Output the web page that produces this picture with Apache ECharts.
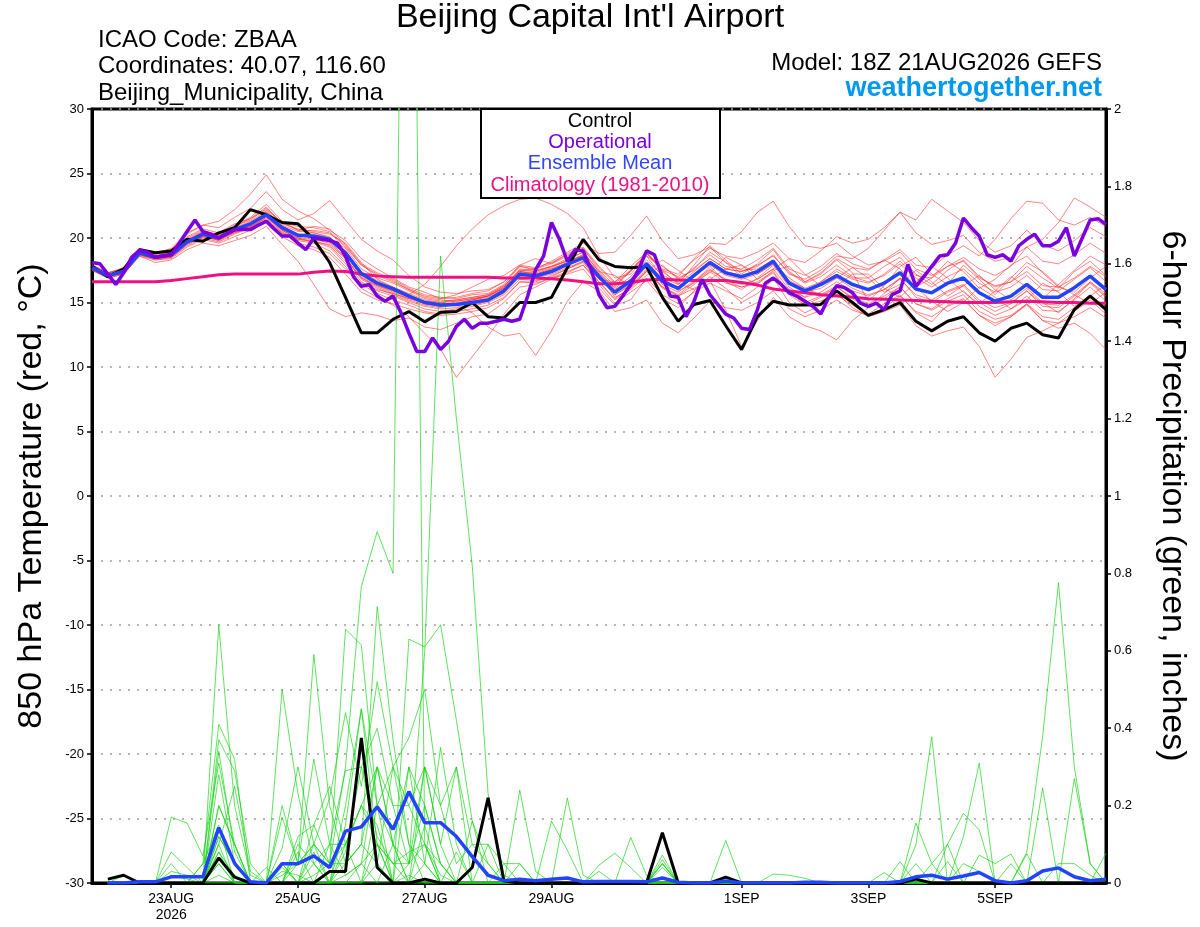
<!DOCTYPE html>
<html>
<head>
<meta charset="utf-8">
<title>Beijing Capital Int'l Airport - GEFS</title>
<script src="https://cdn.jsdelivr.net/npm/echarts@6.0.0/dist/echarts.min.js"></script>
<style>
  html, body { margin: 0; padding: 0; background: #fff; }
  #chart { width: 1200px; height: 927px; }
</style>
</head>
<body>
<div id="chart"></div>
<script>
const FONT = "'Liberation Sans', Arial, Helvetica, sans-serif"

// x axis: hours after 18Z 21AUG2026
const tickHours = [30, 78, 126, 174, 246, 294, 342]
const tickLabels = ['23AUG\n2026', '25AUG', '27AUG', '29AUG', '1SEP', '3SEP', '5SEP']

// 850 hPa temperature (C), 6-hourly from hour 0
const controlTemp = [17.8, 17.0, 17.6, 19.1, 18.85, 19.0, 19.9, 19.75, 20.4, 20.8, 22.2, 21.8, 21.2, 21.1, 19.9, 18.1, 15.4,
  12.65, 12.65, 13.7, 14.3, 13.5, 14.25, 14.3, 15.0, 13.9, 13.8, 15.0, 15.0, 15.4, 17.7, 19.9, 18.3,
  17.8, 17.7, 17.8, 15.4, 13.55, 14.85, 15.15, 13.2, 11.35, 13.9, 15.1, 14.8, 14.8, 14.85, 15.9, 15.0,
  14.0, 14.45, 15.0, 13.55, 12.8, 13.55, 13.9, 12.65, 12.0, 13.0, 13.4, 12.5, 12.25, 14.45, 15.5, 14.45]
const meanTemp = [17.7, 17.1, 17.4, 18.85, 18.5, 18.7, 19.7, 20.3, 20.0, 20.65, 21.1, 21.8, 20.8, 20.2, 20.15, 19.9, 18.85,
  17.25, 16.5, 16.05, 15.5, 15.0, 14.8, 14.85, 15.0, 15.2, 15.9, 17.2, 17.05, 17.4, 17.95, 18.45, 17.0,
  15.8, 16.65, 18.0, 16.65, 16.1, 17.1, 18.1, 17.3, 17.0, 17.4, 18.2, 16.5, 15.9, 16.4, 17.1, 16.4,
  16.0, 16.5, 17.3, 16.05, 15.75, 16.5, 16.9, 15.75, 15.1, 15.5, 16.4, 15.4, 15.4, 16.15, 17.05, 16.0]
const climTemp = [16.6, 16.6, 16.6, 16.6, 16.6, 16.7, 16.85, 17.0, 17.15, 17.2, 17.2, 17.2, 17.2, 17.2, 17.35, 17.45, 17.4,
  17.2, 17.05, 17.0, 16.95, 16.95, 16.95, 16.95, 16.95, 16.95, 16.9, 16.9, 16.9, 16.85, 16.75, 16.6, 16.45,
  16.45, 16.55, 16.75, 16.8, 16.75, 16.7, 16.7, 16.7, 16.55, 16.35, 16.05, 15.9, 15.75, 15.6, 15.5, 15.4,
  15.3, 15.25, 15.2, 15.15, 15.1, 15.05, 15.0, 15.0, 15.0, 15.05, 15.1, 15.05, 15.0, 15.0, 14.95, 14.95]

// operational run, 3-hourly from hour 0
const operTemp = [18.1, 18.0, 17.2, 16.4, 17.3, 18.5, 19.05, 18.9, 18.5, 18.6, 18.7, 19.6, 20.5, 21.4, 20.5, 20.3, 20.0,
  20.35, 20.65, 20.65, 20.65, 21.0, 21.3, 20.7, 20.15, 20.15, 19.6, 19.1, 20.0, 19.9, 19.8, 19.6, 18.6,
  17.0, 16.25, 16.4, 15.5, 15.1, 15.5, 14.2, 12.65, 11.2, 11.2, 12.25, 11.35, 12.0, 13.15, 13.7, 13.0,
  13.4, 13.4, 13.55, 13.7, 13.55, 13.7, 15.5, 17.55, 18.6, 21.2, 19.9, 18.2, 19.1, 19.0, 17.55, 15.6,
  14.6, 14.7, 15.5, 16.4, 17.55, 19.0, 18.7, 17.0, 15.5, 15.4, 13.9, 15.1, 16.8, 15.6, 14.85, 14.1,
  13.8, 13.0, 12.9, 14.45, 16.5, 16.9, 16.4, 15.75, 15.5, 15.1, 14.7, 14.1, 15.4, 16.3, 16.15, 15.75,
  14.95, 14.7, 14.95, 14.45, 15.6, 15.9, 17.95, 16.25, 17.0, 17.8, 18.6, 18.7, 19.6, 21.55, 20.8, 20.15,
  18.7, 18.5, 18.7, 18.2, 19.4, 19.9, 20.3, 19.4, 19.4, 19.75, 20.8, 18.6, 20.0, 21.4, 21.5, 21.05]

// ensemble members, 6-hourly from hour 0
const tempMembers = [
  [17.9,17.3,17.6,18.9,18.8,19.2,20.4,21.0,21.3,22.2,23.4,24.9,23.0,22.1,21.5,20.6,19.8, 18.4,17.6,16.9,16.2,15.8,15.3,15.6,16.2,16.8,17.1,17.9,18.4,18.0,18.6,19.2,17.5, 16.3,17.4,18.8,17.5,16.4,17.9,19.4,18.3,17.2,18.0,19.1,17.4,16.6,17.3,18.4,17.7, 16.9,17.8,18.5,17.2,16.4,17.5,18.3,17.0,16.2,16.6,17.8,16.9,16.1,17.4,18.2,17.1],
  [17.5,16.9,17.2,18.6,18.1,18.3,19.1,19.6,19.4,19.8,20.2,20.9,19.5,18.2,16.4,14.5,13.9, 14.2,14.0,13.6,13.8,13.1,12.9,13.4,13.9,14.1,15.0,16.2,16.4,16.9,17.2,17.6,16.1, 14.8,15.2,16.9,15.6,14.9,15.8,16.5,15.9,15.3,16.2,16.9,15.0,14.2,14.8,15.6,14.8, 14.1,14.9,15.6,14.2,13.5,14.8,15.3,14.0,13.2,13.9,14.8,13.6,13.4,14.3,15.2,14.1],
  [17.8,17.2,17.5,19.0,18.6,18.9,20.0,20.6,20.2,20.9,21.5,22.4,21.1,20.7,20.5,20.3,19.6, 18.1,16.8,16.2,15.6,16.4,17.8,19.4,20.7,21.8,22.5,23.0,23.1,22.6,21.9,20.8,18.6, 16.9,17.2,18.6,17.8,16.9,17.5,18.4,17.6,17.4,17.9,18.6,17.3,16.5,17.0,17.9,17.0, 16.6,17.1,18.0,16.9,16.2,17.0,17.6,16.5,15.8,16.2,17.1,16.0,15.9,16.8,17.7,16.6],
  [17.6,17.0,17.3,18.7,18.4,18.5,19.5,20.1,19.9,20.4,20.8,21.6,20.5,19.8,19.6,19.0,17.8, 16.1,15.4,14.8,13.9,12.6,11.4,9.2,10.8,12.4,14.1,15.6,16.2,16.8,17.3,17.9,16.6, 15.2,16.1,17.4,16.2,15.6,16.6,17.5,16.8,16.4,16.8,17.6,16.0,15.4,15.8,16.6,15.9, 15.5,16.0,16.8,15.6,15.2,15.9,16.4,15.2,14.6,15.0,15.9,14.9,14.8,15.6,16.6,15.5],
  [17.7,17.1,17.3,18.8,18.5,18.6,19.6,20.2,20.1,20.5,21.0,21.7,20.9,20.3,20.4,20.0,19.2, 17.6,16.9,16.5,15.9,15.3,15.1,15.2,15.4,15.6,16.3,17.5,17.4,17.8,18.2,18.7,17.3, 16.0,16.8,17.9,16.4,15.8,16.7,17.6,16.7,16.2,16.5,17.3,15.6,14.8,15.1,15.7,14.6, 13.9,14.3,14.8,13.2,12.4,12.8,13.1,11.6,9.2,10.6,12.3,12.8,13.4,13.9,14.6,13.8],
  [17.8,17.2,17.6,19.0,18.7,18.9,19.9,20.5,20.3,21.0,21.6,22.6,21.3,20.6,20.9,20.7,19.5, 18.0,17.3,16.8,16.1,15.6,15.4,15.3,15.6,15.7,16.4,17.8,17.6,18.0,18.8,19.3,17.8, 16.6,17.5,18.9,17.6,17.2,18.3,19.2,18.6,18.4,18.9,19.6,18.4,18.1,19.0,20.1,19.6, 19.9,20.8,22.0,21.4,23.0,22.1,21.2,19.8,18.9,19.4,20.6,19.5,19.0,19.8,20.8,20.1],
  [17.6,17.0,17.4,18.9,18.6,18.8,19.8,20.4,20.0,20.7,21.2,22.0,20.9,20.3,20.2,19.7,18.5, 16.9,16.2,15.7,15.2,14.8,14.6,14.9,15.2,15.5,16.1,17.4,17.3,17.7,18.3,18.9,17.4, 16.1,17.0,18.3,17.1,16.6,17.7,18.7,17.8,17.6,18.3,19.2,17.6,17.1,17.8,18.8,18.0, 17.6,18.3,19.1,17.9,17.7,18.7,19.4,18.6,19.9,21.5,22.85,22.7,21.4,21.0,21.6,20.9],
  [17.7,17.1,17.5,18.8,18.4,18.6,19.6,20.2,19.8,20.5,20.9,21.5,20.4,19.9,19.8,19.4,18.2, 16.6,15.9,15.5,15.0,14.5,14.3,14.5,14.7,15.0,15.6,16.8,16.7,17.0,17.6,18.1,16.6, 15.3,16.2,17.5,16.1,15.5,16.4,17.4,16.5,16.2,16.6,17.4,15.7,15.0,15.5,16.2,15.4, 14.9,15.5,16.2,14.9,14.4,15.1,15.6,14.3,13.7,14.0,14.9,13.6,13.0,13.4,12.6,11.35],
  [17.9,17.3,17.6,19.1,18.8,19.0,20.1,20.7,20.4,21.1,21.5,22.2,21.2,20.9,20.8,20.5,19.4, 17.9,17.1,16.6,16.0,15.5,15.3,15.4,15.7,15.9,16.6,17.9,17.7,18.1,18.7,19.2,17.7, 16.5,17.4,18.8,17.5,17.0,18.4,19.6,19.5,20.5,22.0,22.85,20.9,19.4,19.2,19.6,18.6, 17.9,18.2,18.9,17.6,17.1,17.8,18.2,16.9,16.3,16.6,17.4,16.3,16.2,16.9,17.8,17.0],
  [17.5,17.0,17.3,18.7,18.3,18.5,19.4,20.0,19.7,20.3,20.8,21.4,20.4,19.6,19.3,18.8,17.6, 16.5,16.0,15.7,15.3,15.1,15.0,15.2,15.4,15.6,16.3,17.5,17.6,18.2,18.9,19.6,18.8, 18.9,20.2,21.7,19.8,18.4,18.7,19.3,18.1,17.5,17.6,18.3,16.6,15.8,16.1,16.9,16.1, 15.6,16.0,16.9,15.4,15.0,15.8,16.3,15.0,14.3,14.9,15.9,14.7,14.6,15.5,16.5,15.4],
  [17.8,17.2,17.4,18.8,18.5,18.7,19.7,20.3,20.0,20.6,21.1,21.8,20.7,20.2,20.0,19.8,18.7, 17.0,16.3,15.8,15.3,14.9,14.7,14.8,14.2,13.1,12.4,12.6,10.9,12.8,15.1,16.6,15.9, 14.3,14.6,15.2,13.4,12.65,13.8,15.1,14.6,14.4,15.0,15.9,14.5,13.9,14.4,15.2,14.4, 14.0,14.6,15.5,14.3,13.9,14.7,15.2,14.0,13.4,13.9,14.9,13.9,13.7,14.6,15.6,14.6],
  [17.6,17.0,17.3,18.8,18.5,18.7,19.6,20.2,19.9,20.5,21.0,21.8,20.6,20.0,19.9,19.6,18.4, 16.9,16.3,15.9,15.4,15.0,14.8,14.9,15.1,15.3,16.0,17.3,17.1,17.5,18.0,18.5,17.0, 15.6,16.3,17.6,16.2,15.5,16.1,16.7,14.4,11.6,13.6,15.4,13.9,13.2,12.8,12.1,13.6, 14.6,15.3,16.2,14.9,14.5,15.3,15.9,14.7,14.0,14.5,15.5,14.4,14.3,15.2,16.2,15.1],
  [17.7,17.1,17.4,18.9,18.5,18.7,19.7,20.4,20.1,20.7,21.1,22.0,20.9,20.3,20.1,19.9,18.9, 17.3,16.6,16.1,15.6,15.1,14.9,15.0,15.2,15.4,16.0,17.3,17.1,17.5,18.0,18.5,17.1, 15.9,16.7,18.0,16.7,16.2,17.2,18.2,17.4,17.1,17.5,18.3,16.7,16.1,16.6,17.4,16.8, 16.5,17.2,18.2,17.1,16.9,17.8,18.5,17.6,17.1,17.8,19.3,19.9,21.2,23.1,22.4,21.6],
  [17.8,17.2,17.5,18.9,18.6,18.8,19.8,20.4,20.1,20.8,21.3,22.1,21.0,20.5,20.6,20.4,19.3, 17.9,17.2,16.7,16.0,15.4,15.2,15.1,15.3,15.5,16.2,17.6,17.4,17.8,18.4,18.9,17.4, 17.1,16.2,17.4,18.3,17.5,16.6,17.3,18.5,17.9,16.8,17.6,18.4,17.2,16.3,16.9,17.7, 17.5,18.3,17.6,16.2,16.9,18.2,17.4,16.1,16.8,17.9,18.6,17.3,16.2,15.8,16.9,17.8],
  [17.6,17.0,17.3,18.7,18.4,18.6,19.6,20.1,19.9,20.5,20.9,21.6,20.6,20.0,19.7,19.3,18.0, 16.4,15.7,15.2,14.8,14.3,14.1,14.3,14.5,14.8,15.4,16.6,16.5,16.9,17.4,17.9,16.4, 14.9,15.8,16.7,15.3,14.6,15.9,17.0,16.1,15.0,15.7,16.8,15.9,14.8,15.4,16.2,15.3, 14.6,15.7,16.9,16.2,15.1,14.3,15.0,16.2,15.4,14.5,15.2,16.5,15.8,14.7,15.5,16.4],
  [17.7,17.1,17.5,18.9,18.6,18.8,19.8,20.3,20.0,20.6,21.0,21.9,20.8,20.2,20.0,19.8,18.7, 17.1,16.4,15.9,15.4,14.9,14.7,14.9,15.2,15.5,16.2,17.4,17.2,17.6,18.1,18.6,17.2, 15.9,16.8,18.1,16.9,16.4,17.4,18.4,17.6,17.4,17.8,18.7,17.2,16.8,17.5,18.6,18.4, 19.2,20.6,22.0,20.4,19.5,19.8,20.2,18.9,18.2,18.5,19.3,18.2,18.0,18.7,19.6,18.8],
  [17.9,17.3,17.7,19.2,18.9,19.1,20.3,21.0,20.8,21.6,22.3,23.6,22.2,21.4,21.9,22.9,21.4, 19.9,19.0,18.3,17.1,16.2,15.8,15.7,15.9,16.0,16.6,17.8,17.5,17.8,18.2,18.6,16.9, 15.6,16.4,17.8,16.5,16.0,17.0,17.9,17.1,16.8,17.2,18.0,16.4,15.8,16.3,17.0,16.3, 15.9,16.4,17.2,16.0,15.7,16.4,16.9,15.7,15.1,15.5,16.4,15.3,15.3,16.1,17.0,15.9],
  [17.5,16.9,17.2,18.6,18.3,18.4,19.3,19.9,19.6,20.1,20.6,21.2,20.1,19.4,19.1,18.5,17.2, 15.8,15.2,14.9,14.5,14.2,14.0,14.1,14.3,14.6,15.3,16.6,16.6,17.1,17.6,18.2,16.8, 16.2,17.5,18.6,17.0,15.9,16.5,17.8,16.6,16.0,16.9,17.9,16.2,15.4,16.6,17.6,16.9, 16.9,15.8,16.4,17.5,16.6,15.5,16.3,17.1,16.0,15.2,16.1,15.0,14.2,15.3,16.6,15.7],
  [17.8,17.2,17.5,18.9,18.6,18.8,19.8,20.5,20.2,20.9,21.4,22.3,21.2,20.6,20.4,20.1,19.0, 17.4,16.7,16.2,15.7,15.2,15.0,15.1,15.3,15.5,16.1,17.4,17.2,17.6,18.1,18.7,17.2, 15.4,16.0,17.1,17.9,16.8,17.6,18.9,18.1,17.0,16.4,17.5,17.8,16.6,17.2,18.3,17.3, 15.1,16.3,17.8,18.5,17.2,16.4,17.9,16.8,15.6,16.9,18.1,17.4,16.3,15.6,14.9,15.8],
  [17.6,17.0,17.3,18.7,18.4,18.5,19.5,20.1,19.8,20.4,20.9,21.7,20.6,19.9,19.7,19.5,18.4, 16.8,16.1,15.6,15.1,14.7,14.5,14.6,14.8,15.1,15.7,17.0,16.9,17.2,17.7,18.2,16.8, 16.6,17.8,18.9,17.4,16.5,16.0,16.8,17.6,17.9,17.2,18.0,16.9,16.1,15.6,16.3,17.2, 17.2,16.1,15.4,16.6,17.8,16.9,15.8,14.9,15.9,17.0,16.2,15.3,16.4,17.5,18.6,17.9]
]

// 6-hour precipitation (inches), from hour 6
const controlPrecip = [0.01, 0.02, 0, 0, 0, 0, 0, 0.065, 0.015, 0, 0, 0, 0, 0, 0.03, 0.03,
  0.375, 0.04, 0, 0, 0.01, 0, 0, 0.04, 0.22, 0.005, 0, 0, 0, 0, 0, 0,
  0, 0, 0, 0.13, 0, 0, 0, 0.015, 0, 0, 0, 0, 0, 0, 0, 0,
  0, 0, 0, 0.01, 0, 0, 0, 0, 0, 0, 0, 0, 0, 0, 0, 0]
const meanPrecip = [0, 0, 0.003, 0.003, 0.016, 0.016, 0.016, 0.143, 0.051, 0.003, 0, 0.05, 0.05, 0.07, 0.04, 0.134,
  0.145, 0.197, 0.139, 0.236, 0.156, 0.156, 0.12, 0.068, 0.02, 0.006, 0.01, 0.006, 0.01, 0.013, 0.003, 0.004,
  0.004, 0.004, 0.003, 0.013, 0.002, 0, 0, 0.005, 0, 0, 0, 0, 0.002, 0.002, 0, 0,
  0, 0, 0.004, 0.016, 0.02, 0.01, 0.018, 0.027, 0.006, 0, 0.006, 0.031, 0.039, 0.016, 0.006, 0.01]
const precipMembers = [
  [0,0,0,0,0,0,0,0.12,0.05,0,0,0,0,0.02,0.05,0.3, 0.766,0.908,0.8,4.0,0.1,0.02,0,0,0,0,0,0,0,0,0,0, 0,0,0,0,0,0,0,0,0,0,0,0,0,0,0,0, 0,0,0,0,0.05,0,0,0,0,0,0,0,0,0,0,0],
  [0,0,0,0,0.02,0.01,0,0.2,0.1,0,0,0.17,0.05,0.1,0.05,0.1, 0.2,0.3,0.2,0.05,0.6,1.62,1.2,0.82,0.23,0.02,0,0,0,0,0,0, 0,0,0,0.05,0,0,0,0,0,0,0,0,0,0,0,0, 0,0,0,0,0,0,0.05,0.03,0,0,0,0,0,0,0,0],
  [0,0,0,0,0.17,0.155,0.07,0.31,0.1,0,0,0.02,0.05,0.59,0.2,0.05, 0.1,0.714,0.37,0.1,0.05,0,0,0,0,0,0.24,0.03,0,0,0,0, 0,0.118,0.02,0,0,0,0,0,0,0,0,0,0,0,0,0, 0,0,0,0,0,0,0,0,0,0,0,0,0,0,0,0],
  [0,0,0,0,0,0,0,0.667,0.2,0.02,0,0,0.12,0.15,0.05,0.656, 0.615,0.2,0.1,0.3,0.05,0.35,0.1,0,0,0,0,0,0,0.22,0.02,0, 0,0,0,0,0,0,0,0,0,0,0,0,0,0,0,0, 0,0,0,0.098,0.378,0,0,0,0,0,0,0,0,0,0,0],
  [0,0,0,0,0,0,0.05,0.41,0.32,0,0,0.5,0.23,0.05,0,0.2, 0.45,0.1,0,0.63,0.61,0.667,0.42,0.16,0.05,0,0,0,0,0,0,0, 0,0,0,0.072,0,0,0,0,0,0,0,0,0,0,0,0, 0,0,0,0,0,0,0,0,0,0,0,0,0,0,0,0],
  [0,0,0,0,0,0,0,0.37,0.29,0.05,0,0.09,0.3,0.1,0.22,0.44, 0.25,0.52,0.3,0.375,0.5,0.2,0.3,0.1,0.1,0,0,0,0.16,0.085,0,0, 0,0,0,0,0,0,0,0,0,0,0,0,0,0,0,0, 0,0,0,0,0,0,0.12,0.31,0,0,0,0,0,0,0,0],
  [0,0,0,0,0.08,0.04,0,0.34,0.08,0,0,0.2,0.05,0.32,0.1,0.29, 0.3,0.4,0.2,0.2,0.3,0.1,0,0,0,0,0,0,0,0,0,0.046, 0.077,0.04,0,0,0,0,0,0,0,0,0,0,0,0,0,0, 0,0,0,0,0,0,0,0,0,0,0.08,0.378,0.776,0.3,0.05,0],
  [0,0,0,0,0,0,0,0.28,0.05,0,0.04,0,0.08,0,0.1,0.1, 0.2,0.15,0,0.3,0.2,0.05,0,0,0,0,0,0,0,0,0,0, 0,0,0,0,0,0,0,0.11,0,0,0,0,0,0,0,0, 0,0,0,0,0,0,0,0,0,0,0,0.246,0,0,0,0],
  [0,0,0,0,0,0,0.05,0.15,0,0,0,0.05,0,0,0,0.05, 0.1,0.3,0.1,0,0.15,0,0.08,0,0,0,0,0,0,0,0,0, 0,0,0,0.06,0,0,0,0,0,0,0,0,0,0,0,0, 0,0,0,0.155,0.05,0.1,0.18,0.137,0,0,0,0,0,0,0,0],
  [0,0.02,0,0,0.05,0,0,0.1,0.25,0.03,0,0,0,0.15,0.25,0.1, 0,0.2,0.3,0.1,0,0,0,0,0,0,0,0,0,0,0,0, 0,0,0,0.05,0,0,0,0,0,0,0.023,0.02,0.012,0,0,0, 0,0,0.055,0,0,0.055,0,0.072,0.05,0.075,0,0,0,0,0,0],
  [0,0,0,0,0,0,0,0.08,0.02,0,0,0,0.1,0.05,0.1,0.02, 0.05,0.3,0.1,0.05,0.3,0.2,0.05,0.1,0.05,0,0.05,0,0,0,0,0.03, 0,0,0,0.04,0,0,0,0,0,0,0,0,0,0,0,0, 0,0.027,0,0,0,0.1,0,0,0,0,0,0,0,0,0,0.077],
  [0,0,0,0,0,0,0,0.05,0,0,0,0.04,0,0.1,0,0.15, 0.45,0.2,0,0.05,0.2,0.05,0,0,0,0,0,0,0,0,0,0, 0,0,0,0,0,0,0,0,0,0,0,0,0,0,0,0, 0,0,0,0,0,0,0,0,0,0,0,0,0.05,0.05,0.02,0],
  [0,0,0,0,0,0,0,0.2,0.1,0,0,0,0,0,0,0.1, 0.2,0.1,0.05,0,0.3,0.1,0.3,0,0.1,0.05,0,0,0,0,0,0, 0,0,0,0,0,0,0,0,0,0,0,0,0,0,0,0, 0,0,0,0,0,0,0,0,0,0,0.075,0,0,0.27,0.05,0],
  [0,0,0,0,0,0,0,0.05,0,0,0,0,0.05,0.1,0.05,0.05, 0.1,0.05,0.3,0.2,0.1,0,0,0.16,0,0,0,0,0,0,0,0, 0,0,0,0,0,0,0,0,0,0,0,0,0,0,0,0, 0,0,0,0,0,0,0,0,0,0.05,0,0,0,0,0,0],
  [0,0,0,0,0.03,0.02,0,0.1,0,0,0,0.03,0.02,0,0,0.08, 0.3,0.12,0.05,0.08,0.1,0,0,0,0,0.05,0.05,0,0,0,0,0, 0,0,0,0,0,0,0,0,0,0,0,0,0,0,0,0, 0,0,0,0.05,0,0,0,0,0,0,0,0,0,0,0,0],
  [0,0,0,0,0,0,0,0,0,0,0,0.05,0,0.05,0,0.02, 0.05,0.1,0.05,0.05,0.1,0.05,0,0,0,0,0,0,0,0,0,0, 0,0,0,0,0,0,0,0,0,0,0,0,0,0,0,0, 0,0,0,0,0,0,0,0,0,0,0,0,0,0,0,0],
  [0,0,0,0,0,0,0,0.12,0.05,0,0,0,0,0,0,0, 0,0.05,0,0.02,0,0,0,0,0,0,0,0,0,0,0,0, 0,0,0,0.05,0,0,0,0,0,0,0,0,0,0,0,0, 0,0,0,0,0,0,0,0,0,0,0,0,0,0,0,0],
  [0,0,0,0,0,0,0,0.08,0,0,0,0,0,0.08,0,0, 0,0.1,0,0,0.05,0,0,0,0,0,0,0,0,0,0,0, 0,0,0,0,0,0,0,0,0,0,0,0,0,0,0,0, 0,0,0,0,0,0,0,0,0,0,0,0,0,0,0,0],
  [0,0,0,0,0,0,0,0,0,0,0,0,0,0,0,0, 0.05,0,0.1,0,0,0,0,0,0,0,0,0,0,0,0,0, 0,0,0,0,0,0,0,0,0,0,0,0,0,0,0,0, 0,0,0,0,0,0,0,0,0,0,0,0,0,0,0,0],
  [0,0,0,0,0,0,0,0.02,0,0,0,0,0,0,0,0, 0,0,0,0,0,0,0,0,0,0,0,0,0,0,0,0, 0,0,0,0,0,0,0,0,0,0,0,0,0,0,0,0, 0,0,0,0,0,0,0,0,0,0,0,0,0,0,0,0]
]

const COLORS = {
  member: 'rgba(255, 40, 40, 0.72)',
  precip: 'rgba(20, 210, 20, 0.85)',
  control: '#000000',
  oper: '#7a00dd',
  mean: '#2244ff',
  clim: '#ee1185',
  site: '#0099ee'
}

function toPairs(values, step, start) {
  return values.map((v, i) => [start + i * step, v])
}

function lineSeries(values, step, start, axis, color, width, z) {
  return {
    type: 'line',
    data: toPairs(values, step, start),
    yAxisIndex: axis,
    symbol: 'none',
    silent: true,
    z,
    lineStyle: { color, width }
  }
}

function buildSeries() {
  const series = []
  tempMembers.forEach(m => series.push(lineSeries(m, 6, 0, 0, COLORS.member, 0.8, 2)))
  precipMembers.forEach(m => series.push(lineSeries(m, 6, 6, 1, COLORS.precip, 0.8, 3)))
  series.push(lineSeries(climTemp, 6, 0, 0, COLORS.clim, 3, 4))
  series.push(lineSeries(controlTemp, 6, 0, 0, COLORS.control, 3, 5))
  series.push(lineSeries(controlPrecip, 6, 6, 1, COLORS.control, 3, 5))
  series.push(lineSeries(meanTemp, 6, 0, 0, COLORS.mean, 3.5, 6))
  series.push(lineSeries(meanPrecip, 6, 6, 1, COLORS.mean, 3.5, 6))
  series.push(lineSeries(operTemp, 3, 0, 0, COLORS.oper, 3.5, 7))
  return series
}

function text(x, y, str, size, opts = {}) {
  return {
    type: 'text',
    x,
    y,
    rotation: opts.rotation || 0,
    z: 100,
    style: {
      text: str,
      fill: opts.color || '#000',
      font: `${opts.weight || 'normal'} ${size}px ${FONT}`,
      textAlign: opts.align || 'left',
      textVerticalAlign: 'middle'
    }
  }
}

function buildGraphic() {
  return [
    text(590, 18, "Beijing Capital Int'l Airport", 34, { align: 'center' }),
    text(98, 40, 'ICAO Code: ZBAA', 24),
    text(98, 66, 'Coordinates: 40.07, 116.60', 24),
    text(98, 93, 'Beijing_Municipality, China', 24),
    text(1102, 63, 'Model: 18Z 21AUG2026 GEFS', 24, { align: 'right' }),
    text(1102, 89, 'weathertogether.net', 27, { align: 'right', weight: 'bold', color: COLORS.site }),
    {
      type: 'rect',
      z: 99,
      shape: { x: 481, y: 109, width: 239, height: 89 },
      style: { fill: '#fff', stroke: '#000', lineWidth: 2 }
    },
    text(600, 121, 'Control', 20, { align: 'center' }),
    text(600, 142, 'Operational', 20, { align: 'center', color: COLORS.oper }),
    text(600, 163, 'Ensemble Mean', 20, { align: 'center', color: '#3344ff' }),
    text(600, 185, 'Climatology (1981-2010)', 20, { align: 'center', color: COLORS.clim }),
    text(32, 496, '850 hPa Temperature (red, °C)', 34, { align: 'center', rotation: Math.PI / 2 }),
    text(1172, 496, '6-hour Precipitation (green, inches)', 34, { align: 'center', rotation: -Math.PI / 2 })
  ]
}

const axisLabelStyle = { color: '#000', fontSize: 13, fontFamily: FONT }

const option = {
  animation: false,
  backgroundColor: '#fff',
  grid: {
    left: 92, right: 94, top: 109, bottom: 44,
    show: true, borderColor: '#000', borderWidth: 3, backgroundColor: 'transparent'
  },
  xAxis: {
    type: 'value',
    min: 0,
    max: 384,
    axisLine: { onZero: false, lineStyle: { color: '#000', width: 3 } },
    axisTick: { customValues: tickHours, length: 5, lineStyle: { color: '#000', width: 1.5 } },
    axisLabel: {
      customValues: tickHours,
      ...axisLabelStyle,
      fontSize: 14,
      margin: 8,
      lineHeight: 16,
      formatter: (v) => {
        const k = tickHours.indexOf(v)
        return k >= 0 ? tickLabels[k] : ''
      }
    },
    splitLine: { show: false }
  },
  yAxis: [
    {
      type: 'value',
      min: -30,
      max: 30,
      interval: 5,
      axisLine: { show: true, lineStyle: { color: '#000', width: 3 } },
      axisTick: { show: true, length: 5, lineStyle: { color: '#000', width: 1.5 } },
      axisLabel: { ...axisLabelStyle, margin: 8 },
      splitLine: { show: true, lineStyle: { color: '#a0a0a0', width: 1.5, type: [2, 7] } }
    },
    {
      type: 'value',
      position: 'right',
      min: 0,
      max: 2,
      interval: 0.2,
      axisLine: { show: true, lineStyle: { color: '#000', width: 3 } },
      axisTick: { show: true, length: 5, lineStyle: { color: '#000', width: 1.5 } },
      axisLabel: { ...axisLabelStyle, margin: 8 },
      splitLine: { show: false }
    }
  ],
  graphic: buildGraphic(),
  series: buildSeries()
}

const chart = echarts.init(document.getElementById('chart'))
chart.setOption(option)
window.addEventListener('resize', () => chart.resize())
</script>
</body>
</html>
